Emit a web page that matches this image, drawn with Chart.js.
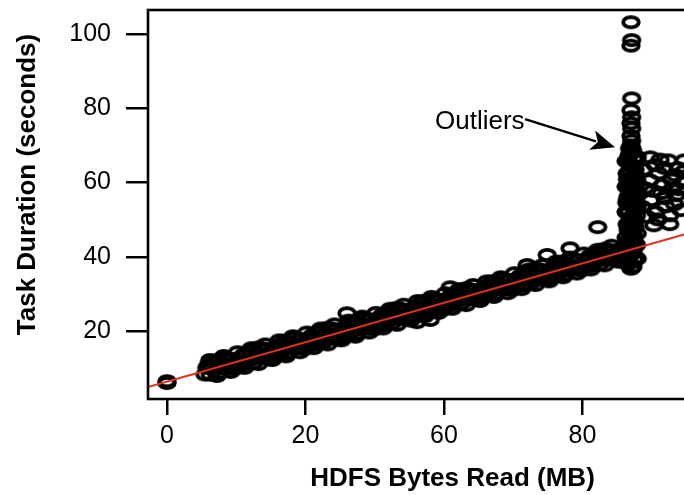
<!DOCTYPE html>
<html>
<head>
<meta charset="utf-8">
<script src="https://cdn.jsdelivr.net/npm/chart.js@4.4.1/dist/chart.umd.min.js"></script>
<style>
  html, body { margin: 0; padding: 0; background: #fff; overflow: hidden; }
  #wrap { width: 684px; height: 495px; overflow: hidden; position: relative; }
</style>
</head>
<body>
<div id="wrap"><canvas id="chart" width="757" height="495"></canvas></div>
<script>
// task size (MB) vs duration (s)
const mainMB = [
  0, 0,
  5.5, 6, 6.5, 7, 7.5, 8, 8.5, 9, 9.5, 10,
  10.5, 11, 11.5, 12, 12.5, 13, 13.5, 14, 14.5, 15,
  15.5, 16, 16.5, 17, 17.5, 18, 18.5, 19, 19.5, 20,
  20.5, 21, 21.5, 22, 22.5, 23, 23.5, 24, 24.5, 25,
  25.5, 26, 26.5, 27, 27.5, 28, 28.5, 29, 29.5, 30,
  30.5, 31, 31.5, 32, 32.5, 33, 33.5, 34, 34.5, 35,
  35.5, 36, 36.5, 37, 37.5, 38, 38.5, 39, 39.5, 40,
  40.5, 41, 41.5, 42, 42.5, 43, 43.5, 44, 44.5, 45,
  45.5, 46, 46.5, 47, 47.5, 48, 48.5, 49, 49.5, 50,
  50.5, 51, 51.5, 52, 52.5, 53, 53.5, 54, 54.5, 55,
  55.5, 56, 56.5, 57, 57.5, 58, 58.5, 59, 59.5, 60,
  60.5, 61, 61.5, 62, 62.5, 63, 63.5, 64, 64.5, 65,
  65.5, 66,
  26.0, 36.1, 38.0, 40.9, 52.0, 54.9, 58.2, 62.2
];
const mainSec = [
  6.0, 6.5,
  8.3, 11.0, 10.1, 12.1, 8.8, 11.5, 12.7, 10.8, 12.4, 10.5,
  11.0, 13.6, 12.7, 14.8, 11.4, 14.1, 15.4, 13.4, 15.1, 13.2,
  13.6, 16.3, 15.4, 17.4, 14.1, 16.8, 18.0, 16.1, 17.8, 15.8,
  16.3, 19.0, 18.0, 20.1, 16.8, 19.4, 20.7, 18.7, 20.4, 18.5,
  18.9, 21.6, 20.7, 22.7, 19.4, 22.1, 23.3, 21.4, 23.1, 21.1,
  21.6, 24.3, 23.3, 25.4, 22.1, 24.7, 26.0, 24.1, 25.7, 23.8,
  24.3, 26.9, 26.0, 28.1, 24.7, 27.4, 28.6, 26.7, 28.4, 26.4,
  26.9, 29.6, 28.6, 30.7, 27.4, 30.0, 31.3, 29.4, 31.0, 29.1,
  29.6, 32.2, 31.3, 33.4, 30.0, 32.7, 34.0, 32.0, 33.7, 31.8,
  32.2, 34.9, 34.0, 36.0, 32.7, 35.3, 36.6, 34.7, 36.3, 34.4,
  34.9, 37.5, 36.6, 38.7, 35.3, 38.0, 39.3, 37.3, 39.0, 37.1,
  37.5, 40.2, 39.3, 41.3, 38.0, 40.7, 41.9, 40.0, 41.7, 39.7,
  40.2, 42.9,
  24.8, 22.4, 23.0, 31.8, 37.8, 40.5, 42.3, 48.0
];
// second pass through the band (it is solid black in the figure)
const bandMB = [
  5.75, 6.25, 6.75, 7.25, 7.75, 8.25, 8.75, 9.25, 9.75, 10.25,
  10.75, 11.25, 11.75, 12.25, 12.75, 13.25, 13.75, 14.25, 14.75, 15.25,
  15.75, 16.25, 16.75, 17.25, 17.75, 18.25, 18.75, 19.25, 19.75, 20.25,
  20.75, 21.25, 21.75, 22.25, 22.75, 23.25, 23.75, 24.25, 24.75, 25.25,
  25.75, 26.25, 26.75, 27.25, 27.75, 28.25, 28.75, 29.25, 29.75, 30.25,
  30.75, 31.25, 31.75, 32.25, 32.75, 33.25, 33.75, 34.25, 34.75, 35.25,
  35.75, 36.25, 36.75, 37.25, 37.75, 38.25, 38.75, 39.25, 39.75, 40.25,
  40.75, 41.25, 41.75, 42.25, 42.75, 43.25, 43.75, 44.25, 44.75, 45.25,
  45.75, 46.25, 46.75, 47.25, 47.75, 48.25, 48.75, 49.25, 49.75, 50.25,
  50.75, 51.25, 51.75, 52.25, 52.75, 53.25, 53.75, 54.25, 54.75, 55.25,
  55.75, 56.25, 56.75, 57.25, 57.75, 58.25, 58.75, 59.25, 59.75, 60.25,
  60.75, 61.25, 61.75, 62.25, 62.75, 63.25, 63.75, 64.25, 64.75, 65.25,
  65.75
];
const bandSec = [
  10.1, 8.3, 11.6, 9.7, 10.5, 13.0, 10.0, 12.5, 9.8, 12.2,
  12.7, 11.0, 14.2, 12.3, 13.2, 15.6, 12.7, 15.2, 12.4, 14.9,
  15.4, 13.6, 16.9, 15.0, 15.8, 18.3, 15.4, 17.8, 15.1, 17.6,
  18.0, 16.3, 19.6, 17.6, 18.5, 20.9, 18.0, 20.5, 17.7, 20.2,
  20.7, 18.9, 22.2, 20.3, 21.1, 23.6, 20.7, 23.1, 20.4, 22.9,
  23.3, 21.6, 24.9, 22.9, 23.8, 26.3, 23.3, 25.8, 23.1, 25.5,
  26.0, 24.3, 27.5, 25.6, 26.4, 28.9, 26.0, 28.4, 25.7, 28.2,
  28.6, 26.9, 30.2, 28.2, 29.1, 31.6, 28.6, 31.1, 28.4, 30.8,
  31.3, 29.6, 32.8, 30.9, 31.8, 34.2, 31.3, 33.8, 31.0, 33.5,
  34.0, 32.2, 35.5, 33.5, 34.4, 36.9, 33.9, 36.4, 33.7, 36.1,
  36.6, 34.9, 38.1, 36.2, 37.1, 39.5, 36.6, 39.1, 36.3, 38.8,
  39.3, 37.5, 40.8, 38.9, 39.7, 42.2, 39.3, 41.7, 39.0, 41.5,
  41.9
];
// tasks along the upper and lower edges of the band
const edgeMB = [
  6.2, 7.2, 8.2, 9.2, 10.2, 11.2, 12.2, 13.2, 14.2, 15.2,
  16.2, 17.2, 18.2, 19.2, 20.2, 21.2, 22.2, 23.2, 24.2, 25.2,
  26.2, 27.2, 28.2, 29.2, 30.2, 31.2, 32.2, 33.2, 34.2, 35.2,
  36.2, 37.2, 38.2, 39.2, 40.2, 41.2, 42.2, 43.2, 44.2, 45.2,
  46.2, 47.2, 48.2, 49.2, 50.2, 51.2, 52.2, 53.2, 54.2, 55.2,
  56.2, 57.2, 58.2, 59.2, 60.2, 61.2, 62.2, 63.2, 64.2, 65.2
];
const edgeSec = [
  12.2, 7.9, 13.3, 9.0, 14.3, 10.1, 15.4, 11.1, 16.4, 12.2,
  17.5, 13.2, 18.6, 14.3, 19.6, 15.4, 20.7, 16.4, 21.8, 17.5,
  22.8, 18.5, 23.9, 19.6, 24.9, 20.7, 26.0, 21.7, 27.1, 22.8,
  28.1, 23.9, 29.2, 24.9, 30.2, 26.0, 31.3, 27.0, 32.4, 28.1,
  33.4, 29.2, 34.5, 30.2, 35.6, 31.3, 36.6, 32.4, 37.7, 33.4,
  38.7, 34.5, 39.8, 35.5, 40.9, 36.6, 41.9, 37.7, 43.0, 38.7
];
// the tall column at the block-size limit, with the outliers on top
const columnMB = [
  67.0, 66.6, 67.5, 66.8, 67.3, 66.5, 67.6, 66.9, 67.2, 66.6,
  67.5, 66.8, 67.3, 66.5, 67.6, 66.9, 67.2, 66.6, 67.5, 66.8,
  67.3, 66.5, 67.6, 66.9, 67.2, 66.6, 67.4, 66.9, 67.2, 67.0,
  67.1, 67.0, 67.1, 67.0, 67.1, 67.0, 67.1, 67.0, 67.1, 67.0
];
const columnSec = [
  36.8, 38.0, 39.2, 40.3, 41.5, 42.6, 43.7, 44.9, 46.0, 47.2,
  48.3, 49.5, 50.6, 51.8, 52.9, 54.0, 55.2, 56.3, 57.5, 58.6,
  59.8, 60.9, 62.0, 63.2, 64.3, 65.5, 66.6, 67.8, 68.9, 70.0,
  71.3, 72.6, 74.6, 76.0, 77.6, 79.5, 82.7, 96.9, 98.4, 103.2
];
const columnMB2 = [
  67.3, 66.7, 67.7, 66.4, 67.0, 67.8, 66.6, 67.4, 66.9, 67.6,
  66.5, 67.1, 67.8, 66.7, 67.3, 66.4, 67.5, 66.9, 67.7, 66.6,
  67.2, 67.8, 66.5, 67.4, 66.8, 67.6, 66.7, 67.2, 67.0
];
const columnSec2 = [
  37.4, 38.6, 39.8, 40.9, 42.1, 43.2, 44.3, 45.5, 46.6, 47.8,
  48.9, 50.1, 51.2, 52.4, 53.5, 54.6, 55.8, 56.9, 58.1, 59.2,
  60.4, 61.5, 62.6, 63.8, 64.9, 66.1, 67.2, 68.4, 69.5
];
const columnMB3 = [
  67.1, 66.3, 67.9, 67.0, 66.5, 67.6, 67.1, 66.3, 67.9, 67.0,
  66.5, 67.6, 67.1, 66.3, 67.9, 67.0, 66.5, 67.6, 67.1, 66.3,
  67.9, 67.0, 66.5, 67.6, 67.1, 66.3, 67.9, 67.0, 66.8
];
const columnSec3 = [
  37.1, 38.3, 39.5, 40.6, 41.8, 42.9, 44.0, 45.2, 46.3, 47.5,
  48.6, 49.8, 50.9, 52.1, 53.2, 54.3, 55.5, 56.6, 57.8, 58.9,
  60.1, 61.2, 62.3, 63.5, 64.6, 65.8, 66.9, 68.1, 69.2
];
// cluster just right of the column
const clusterMB = [
  69.7, 70.5, 71.5, 72.4, 73.4, 73.8, 69.9, 70.6, 71.9, 72.6,
  73.5, 74.2, 70.3, 72.6, 71.2, 69.8, 74.5, 71.0, 74.7, 70.2,
  73.0, 76.0, 77.5, 76.5, 68.8, 69.0, 68.6, 71.8, 72.9, 73.9,
  70.9, 72.0, 73.3, 69.3, 74.6, 71.4
];
const clusterSec = [
  60.6, 64.7, 59.3, 66.0, 62.0, 63.9, 55.3, 52.0, 55.8, 51.2,
  56.6, 52.6, 48.5, 48.8, 66.2, 66.8, 60.0, 62.5, 66.0, 57.8,
  58.5, 62.0, 58.0, 65.5, 63.5, 58.5, 53.5, 64.0, 60.8, 58.2,
  50.1, 53.6, 54.2, 50.8, 63.0, 57.2
];

// least squares fit drawn in red
const fitIntercept = 6.4;
const fitSlope = 0.531;

const xTickValues = [0, 20, 40, 60];
const xTickLabels = ['0', '20', '60', '80'];
const yTickValues = [20, 40, 60, 80, 100];

const outlierNote = { text: 'Outliers', x: 38.7, y: 74.4, fromX: 51.7, fromY: 77.1, toX: 64.7, toY: 69.5 };

const FONT = "'Liberation Sans', Arial, Helvetica, sans-serif";
const X_MIN = -2.74, X_MAX = 85.2, Y_MIN = 1.7, Y_MAX = 106.5;

const points = [];
[[mainMB, mainSec], [bandMB, bandSec], [edgeMB, edgeSec], [columnMB, columnSec],
 [columnMB2, columnSec2], [columnMB3, columnSec3], [clusterMB, clusterSec]]
  .forEach(([xs, ys]) => {
    xs.forEach((x, i) => points.push({ x: x, y: ys[i] }));
  });
const fit = [X_MIN, X_MAX].map(x => ({ x: x, y: fitIntercept + fitSlope * x }));

// open ring marker, a bit wider than tall like in the scan
const ring = document.createElement('canvas');
ring.width = 24; ring.height = 18;
const rc = ring.getContext('2d');
rc.lineWidth = 3.8;
rc.strokeStyle = '#000';
rc.beginPath();
rc.ellipse(12, 9, 7.8, 5.1, 0, 0, Math.PI * 2);
rc.stroke();

const noPad = s => { s.paddingLeft = 0; s.paddingRight = 0; s.paddingTop = 0; s.paddingBottom = 0; };

const framePlugin = {
  id: 'frame',
  afterDraw(chart) {
    const { ctx, chartArea: a } = chart;
    ctx.save();
    ctx.strokeStyle = '#000';
    ctx.lineWidth = 2.6;
    ctx.strokeRect(a.left, a.top, a.right - a.left, a.bottom - a.top);
    ctx.restore();
  }
};

const notesPlugin = {
  id: 'notes',
  afterDraw(chart) {
    const { ctx } = chart;
    const xs = chart.scales.x, ys = chart.scales.y;
    ctx.save();
    ctx.fillStyle = '#000';
    // y axis title
    ctx.translate(34.5, 184.5);
    ctx.rotate(-Math.PI / 2);
    ctx.font = 'bold 26px ' + FONT;
    ctx.textAlign = 'center';
    ctx.textBaseline = 'alphabetic';
    ctx.fillText('Task Duration (seconds)', 0, 0);
    ctx.restore();

    // outlier label with arrow
    ctx.save();
    ctx.fillStyle = '#000';
    ctx.strokeStyle = '#000';
    ctx.font = '26px ' + FONT;
    ctx.textAlign = 'left';
    ctx.textBaseline = 'alphabetic';
    ctx.fillText(outlierNote.text, xs.getPixelForValue(outlierNote.x), ys.getPixelForValue(outlierNote.y));
    const x1 = xs.getPixelForValue(outlierNote.fromX), y1 = ys.getPixelForValue(outlierNote.fromY);
    const x2 = xs.getPixelForValue(outlierNote.toX), y2 = ys.getPixelForValue(outlierNote.toY);
    const ang = Math.atan2(y2 - y1, x2 - x1);
    const headLen = 24, headW = 10;
    const bx = x2 - headLen * Math.cos(ang), by = y2 - headLen * Math.sin(ang);
    ctx.lineWidth = 2.5;
    ctx.beginPath();
    ctx.moveTo(x1, y1);
    ctx.lineTo(bx + 4 * Math.cos(ang), by + 4 * Math.sin(ang));
    ctx.stroke();
    ctx.beginPath();
    ctx.moveTo(x2, y2);
    ctx.lineTo(bx - headW * Math.sin(ang), by + headW * Math.cos(ang));
    ctx.lineTo(bx + 6 * Math.cos(ang), by + 6 * Math.sin(ang));
    ctx.lineTo(bx + headW * Math.sin(ang), by - headW * Math.cos(ang));
    ctx.closePath();
    ctx.fill();
    ctx.restore();
  }
};

new Chart(document.getElementById('chart'), {
  type: 'scatter',
  data: {
    datasets: [
      {
        data: points,
        pointStyle: ring,
        pointRadius: 8,
        order: 1
      },
      {
        type: 'line',
        data: fit,
        borderColor: '#e0301e',
        borderWidth: 2,
        pointRadius: 0,
        fill: false,
        order: 0
      }
    ]
  },
  options: {
    responsive: false,
    animation: false,
    events: [],
    layout: { autoPadding: false, padding: { top: 10, left: 0, right: 0, bottom: 0 } },
    plugins: { legend: { display: false }, tooltip: { enabled: false } },
    scales: {
      x: {
        type: 'linear',
        min: X_MIN,
        max: X_MAX,
        afterBuildTicks: s => { s.ticks = xTickValues.map(v => ({ value: v })); },
        afterFit: s => { s.height = 96; noPad(s); },
        border: { display: false },
        grid: { drawOnChartArea: false, drawTicks: true, tickLength: 16, color: '#000', lineWidth: 2.5 },
        ticks: {
          callback: (v, i) => xTickLabels[i],
          color: '#000',
          font: { family: FONT, size: 25 },
          padding: 6,
          maxRotation: 0,
          autoSkip: false
        },
        title: {
          display: true,
          text: 'HDFS Bytes Read (MB)',
          color: '#000',
          font: { family: FONT, size: 26, weight: 'bold' },
          padding: { top: 0, bottom: 1 }
        }
      },
      y: {
        type: 'linear',
        min: Y_MIN,
        max: Y_MAX,
        afterBuildTicks: s => { s.ticks = yTickValues.map(v => ({ value: v })); },
        afterFit: s => { s.width = 148; noPad(s); },
        border: { display: false },
        grid: { drawOnChartArea: false, drawTicks: true, tickLength: 22, color: '#000', lineWidth: 2.5 },
        ticks: {
          color: '#000',
          font: { family: FONT, size: 25 },
          padding: 15
        }
      }
    }
  },
  plugins: [framePlugin, notesPlugin]
});
</script>
</body>
</html>
